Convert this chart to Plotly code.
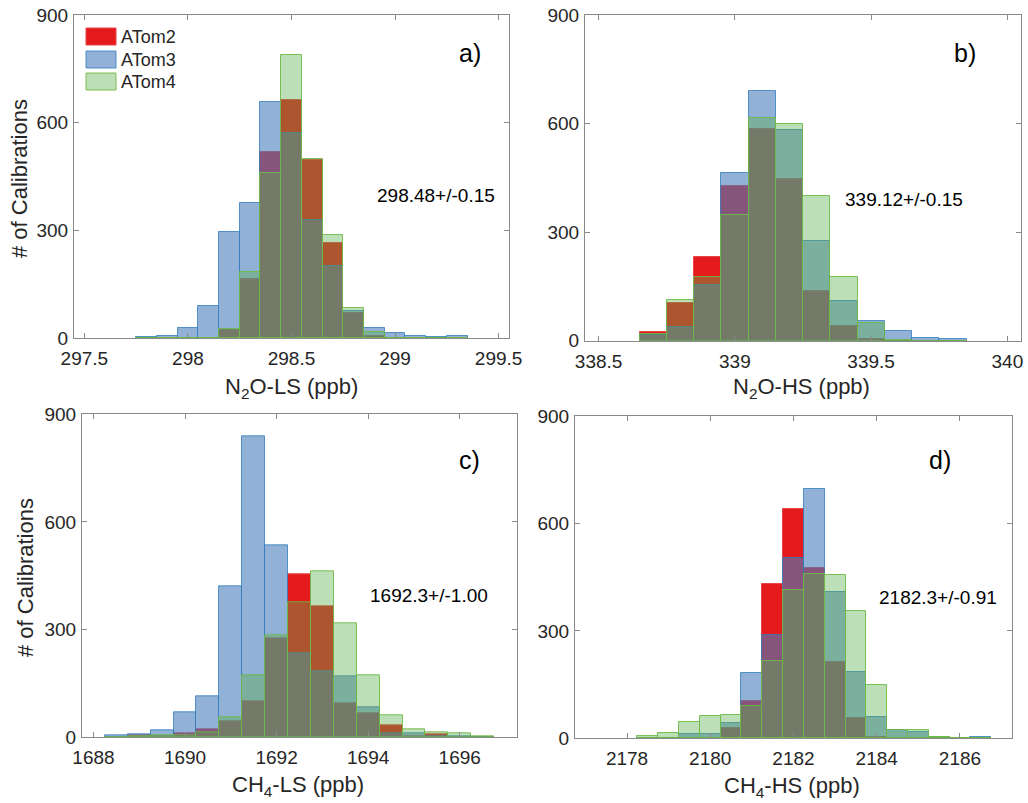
import plotly.graph_objects as go

W, H = 1028, 803

# ---------------- data (counts per bin) ----------------
series_names = ["ATom2", "ATom3", "ATom4"]

# a) N2O-LS, bin width 0.1 ppb
a_centers = [297.8, 297.9, 298.0, 298.1, 298.2, 298.3, 298.4, 298.5, 298.6, 298.7, 298.8, 298.9, 299.0, 299.1, 299.2, 299.3]
a_atom2 = [0, 0, 0, 0, 22, 165, 517, 663, 497, 266, 70, 6, 1, 0, 0, 0]
a_atom3 = [2, 6, 27, 89, 294, 376, 658, 571, 330, 201, 75, 27, 13, 6, 2, 6]
a_atom4 = [0, 0, 0, 0, 25, 184, 460, 789, 500, 288, 84, 18, 1, 0, 0, 0]

# b) N2O-HS, bin width 0.1 ppb
b_centers = [338.7, 338.8, 338.9, 339.0, 339.1, 339.2, 339.3, 339.4, 339.5, 339.6, 339.7, 339.8]
b_atom2 = [23, 103, 231, 427, 584, 447, 137, 41, 5, 0, 0, 0]
b_atom3 = [15, 38, 154, 463, 689, 583, 275, 110, 55, 28, 8, 5]
b_atom4 = [18, 112, 177, 346, 615, 600, 399, 175, 50, 2, 0, 0]

# c) CH4-LS, bin width 0.5 ppb
c_centers = [1688.5, 1689.0, 1689.5, 1690.0, 1690.5, 1691.0, 1691.5, 1692.0, 1692.5, 1693.0, 1693.5, 1694.0, 1694.5, 1695.0, 1695.5, 1696.0, 1696.5]
c_atom2 = [0, 6, 2, 10, 22, 45, 101, 277, 455, 364, 94, 68, 34, 2, 7, 0, 0]
c_atom3 = [6, 8, 20, 69, 113, 422, 838, 536, 233, 184, 171, 84, 10, 10, 2, 2, 0]
c_atom4 = [0, 2, 5, 5, 15, 55, 172, 283, 376, 463, 319, 172, 60, 21, 15, 12, 2]

# d) CH4-HS, bin width 0.5 ppb
d_centers = [2178.5, 2179.0, 2179.5, 2180.0, 2180.5, 2181.0, 2181.5, 2182.0, 2182.5, 2183.0, 2183.5, 2184.0, 2184.5, 2185.0, 2185.5, 2186.0, 2186.5]
d_atom2 = [0, 0, 2, 2, 28, 105, 432, 640, 475, 214, 58, 3, 0, 0, 0, 0, 0]
d_atom3 = [0, 2, 13, 11, 42, 182, 288, 504, 695, 408, 185, 60, 22, 18, 5, 0, 5]
d_atom4 = [7, 15, 45, 62, 65, 90, 215, 414, 458, 455, 355, 149, 23, 22, 3, 0, 0]

panel_labels = ["a)", "b)", "c)", "d)"]
stat_labels = ["298.48+/-0.15", "339.12+/-0.15", "1692.3+/-1.00", "2182.3+/-0.91"]
x_titles = ["N<sub>2</sub>O-LS (ppb)", "N<sub>2</sub>O-HS (ppb)",
            "CH<sub>4</sub>-LS (ppb)", "CH<sub>4</sub>-HS (ppb)"]
y_title = "# of Calibrations"
y_ticks = [0, 300, 600, 900]
x_ticks = [[297.5, 298, 298.5, 299, 299.5],
           [338.5, 339, 339.5, 340],
           [1688, 1690, 1692, 1694, 1696],
           [2178, 2180, 2182, 2184, 2186]]

# ---------------- style ----------------
FONT = "Liberation Sans, Arial, Helvetica, sans-serif"
fills = ["rgba(228,26,28,1)", "rgba(72,125,188,0.6)", "rgba(90,175,75,0.4)"]
edges = ["rgba(232,70,72,1)", "rgba(50,125,190,0.8)", "rgba(110,185,70,0.9)"]
AXC = "#8a8a8a"
TXT = "#262626"


def px(x, y):
    """window pixel -> paper fraction"""
    return x / W, 1 - y / H


# panel geometry in window pixels: (left, right, top, bottom)
boxes = [(74, 509, 15, 338), (585, 1021, 15, 340.7),
         (82, 517, 414.3, 737.3), (575, 1012, 416, 738.3)]
x_ranges = [[297.45, 299.55], [338.45, 340.05], [1687.75, 1697.25], [2176.75, 2187.25]]
widths = [0.1, 0.1, 0.5, 0.5]

panels = [
    (a_centers, [a_atom2, a_atom3, a_atom4]),
    (b_centers, [b_atom2, b_atom3, b_atom4]),
    (c_centers, [c_atom2, c_atom3, c_atom4]),
    (d_centers, [d_atom2, d_atom3, d_atom4]),
]

fig = go.Figure()
layout = {}
annotations = []

for i, (centers, vals) in enumerate(panels):
    sfx = "" if i == 0 else str(i + 1)
    for s in range(3):
        fig.add_trace(go.Bar(
            x=centers, y=vals[s], width=widths[i], name=series_names[s],
            xaxis="x" + sfx, yaxis="y" + sfx, showlegend=False,
            marker=dict(color=fills[s], line=dict(color=edges[s], width=1)),
        ))
    l, r, t, b = boxes[i]
    x0, y0 = px(l, b)
    x1, y1 = px(r, t)
    layout["xaxis" + sfx] = dict(
        domain=[x0, x1], anchor="y" + sfx, range=x_ranges[i],
        tickvals=x_ticks[i], ticks="inside", ticklen=5, tickcolor=AXC,
        showline=True, linecolor=AXC, linewidth=1, mirror="ticks",
        showgrid=False, zeroline=False, automargin=False,
        ticklabeloverflow="allow",
        tickfont=dict(family=FONT, size=19, color=TXT), ticklabelstandoff=3,
    )
    layout["yaxis" + sfx] = dict(
        domain=[y0, y1], anchor="x" + sfx, range=[0, 900],
        tickvals=y_ticks, ticks="inside", ticklen=5, tickcolor=AXC,
        showline=True, linecolor=AXC, linewidth=1, mirror="ticks",
        showgrid=False, zeroline=False, automargin=False,
        ticklabeloverflow="allow",
        tickfont=dict(family=FONT, size=19, color=TXT), ticklabelstandoff=1,
    )

# panel letters and statistics
letter_pos = [(457, 53), (952, 53), (457, 460), (927, 460)]
stat_pos = [(375, 196), (843, 199), (368, 595), (877, 597)]
for i in range(4):
    x, y = px(*letter_pos[i])
    annotations.append(dict(x=x, y=y, xref="paper", yref="paper", text=panel_labels[i],
                            showarrow=False, xanchor="left", yanchor="middle",
                            font=dict(family=FONT, size=25, color="black")))
    x, y = px(*stat_pos[i])
    annotations.append(dict(x=x, y=y, xref="paper", yref="paper", text=stat_labels[i],
                            showarrow=False, xanchor="left", yanchor="middle",
                            font=dict(family=FONT, size=19, color="black")))

# axis titles
xt_pos = [(291, 388), (801, 388), (298, 786), (792, 787)]
for i in range(4):
    x, y = px(*xt_pos[i])
    annotations.append(dict(x=x, y=y, xref="paper", yref="paper", text=x_titles[i],
                            showarrow=False, xanchor="center", yanchor="middle",
                            font=dict(family=FONT, size=22, color=TXT)))
for (xa, ya) in [(19, 179), (25, 578)]:
    x, y = px(xa, ya)
    annotations.append(dict(x=x, y=y, xref="paper", yref="paper", text=y_title,
                            showarrow=False, textangle=-90, xanchor="center", yanchor="middle",
                            font=dict(family=FONT, size=22, color=TXT)))

# legend (panel a)
shapes = []
leg_rows = [(28, 45), (51, 68), (73, 90)]
for s in range(3):
    y0p, y1p = leg_rows[s]
    x0, y0 = px(86, y1p)
    x1, y1 = px(116, y0p)
    shapes.append(dict(type="rect", xref="paper", yref="paper", x0=x0, x1=x1, y0=y0, y1=y1,
                       fillcolor=fills[s], line=dict(color=edges[s], width=1)))
    tx, ty = px(119, (y0p + y1p) / 2 + 0.5)
    annotations.append(dict(x=tx, y=ty, xref="paper", yref="paper", text=series_names[s],
                            showarrow=False, xanchor="left", yanchor="middle",
                            font=dict(family=FONT, size=18, color=TXT)))

fig.update_layout(
    width=W, height=H, autosize=False,
    margin=dict(l=0, r=0, t=0, b=0, autoexpand=False),
    paper_bgcolor="white", plot_bgcolor="white",
    barmode="overlay", bargap=0,
    annotations=annotations, shapes=shapes,
    showlegend=False,
    **layout,
)

# remove the browser's default 8 px body margin so the figure fills the window
fig.write_html(
    "out.html",
    config={"displayModeBar": False},
    post_script="document.body.style.margin='0px';document.body.style.overflow='hidden';",
)
